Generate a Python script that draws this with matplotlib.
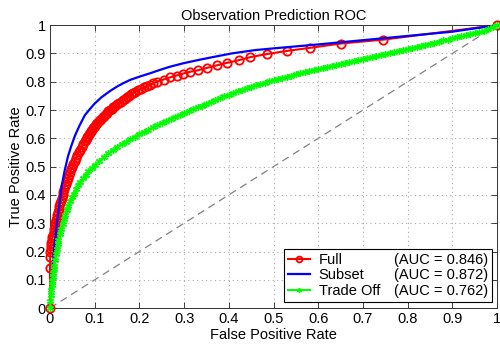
import matplotlib
matplotlib.use("Agg")
import matplotlib.pyplot as plt
from matplotlib.ticker import FuncFormatter
from matplotlib.lines import Line2D

plt.rcParams['font.family'] = ['Liberation Sans', 'DejaVu Sans']

# ---------------- data ----------------
title = "Observation Prediction ROC"
xlabel = "False Positive Rate"
ylabel = "True Positive Rate"
names = ["Full", "Subset", "Trade Off"]
aucs = ["(AUC = 0.846)", "(AUC = 0.872)", "(AUC = 0.762)"]

full_fpr = [0, 0, 0.0005,
            0.001, 0.0015, 0.002, 0.003, 0.004, 0.0055, 0.007, 0.008, 0.009, 0.0105,
            0.012, 0.0135, 0.015, 0.0165, 0.018, 0.0195, 0.021, 0.023, 0.025, 0.0265,
            0.028, 0.0295, 0.031, 0.0335, 0.036, 0.0385, 0.041, 0.043, 0.045, 0.0475,
            0.05, 0.0525, 0.055, 0.058, 0.061, 0.064, 0.067, 0.0705, 0.074, 0.078,
            0.080, 0.082, 0.0838, 0.0855, 0.0873, 0.089, 0.0913, 0.0935, 0.0958,
            0.098, 0.1008, 0.1035, 0.1062, 0.109, 0.112, 0.115, 0.118, 0.121, 0.1243,
            0.1275, 0.1308, 0.134, 0.138, 0.142, 0.146, 0.15, 0.154, 0.158, 0.1625,
            0.167, 0.1715, 0.176, 0.1805, 0.185, 0.191, 0.197, 0.2035, 0.21, 0.217,
            0.224, 0.2315,
            0.239, 0.254, 0.269, 0.283, 0.298, 0.313, 0.332, 0.351, 0.373, 0.396,
            0.422, 0.448, 0.485, 0.53, 0.582, 0.65, 0.746, 1.0]
full_tpr = [0, 0.14, 0.18,
            0.20, 0.21, 0.22, 0.23, 0.24, 0.25, 0.26, 0.27, 0.28, 0.29,
            0.30, 0.31, 0.32, 0.33, 0.34, 0.35, 0.36, 0.37, 0.38, 0.39,
            0.40, 0.41, 0.42, 0.43, 0.44, 0.45, 0.46, 0.47, 0.48, 0.49,
            0.50, 0.51, 0.52, 0.53, 0.54, 0.55, 0.56, 0.57, 0.58, 0.59,
            0.595, 0.60, 0.605, 0.61, 0.615, 0.62, 0.625, 0.63, 0.635,
            0.64, 0.645, 0.65, 0.655, 0.66, 0.665, 0.67, 0.675, 0.68, 0.685,
            0.69, 0.695, 0.70, 0.705, 0.71, 0.715, 0.72, 0.725, 0.73, 0.735,
            0.74, 0.745, 0.75, 0.755, 0.76, 0.765, 0.77, 0.775, 0.78, 0.785,
            0.79, 0.795,
            0.800, 0.808, 0.816, 0.822, 0.829, 0.835, 0.841, 0.849, 0.858, 0.867,
            0.876, 0.887, 0.898, 0.909, 0.920, 0.935, 0.949, 1.0]

subset_fpr = [0, 0.002, 0.004, 0.007, 0.010, 0.014, 0.018, 0.022, 0.026, 0.032,
              0.040, 0.048, 0.056, 0.066, 0.078, 0.090, 0.100, 0.115, 0.134, 0.150,
              0.164, 0.180, 0.200, 0.224, 0.246, 0.268, 0.300, 0.332, 0.370, 0.406,
              0.459, 0.500, 0.600, 0.700, 0.800, 0.900, 1.0]
subset_tpr = [0, 0.06, 0.11, 0.17, 0.22, 0.28, 0.33, 0.38, 0.43, 0.48,
              0.535, 0.575, 0.61, 0.645, 0.682, 0.705, 0.723, 0.745, 0.767, 0.783,
              0.795, 0.807, 0.818, 0.830, 0.842, 0.853, 0.866, 0.877, 0.889, 0.900,
              0.912, 0.918, 0.932, 0.947, 0.962, 0.977, 1.0]

trade_fpr = [0, 0.001, 0.002, 0.003, 0.004, 0.005, 0.006, 0.007, 0.008, 0.009,
             0.011, 0.013, 0.015, 0.017, 0.019, 0.022, 0.025, 0.028, 0.031, 0.034,
             0.037, 0.041, 0.045, 0.049, 0.053, 0.058, 0.063, 0.068, 0.074, 0.080,
             0.086, 0.093,
             0.10, 0.11, 0.12, 0.13, 0.14, 0.15, 0.16, 0.17, 0.18, 0.19,
             0.20, 0.21, 0.22, 0.23, 0.24, 0.25, 0.26, 0.27, 0.28, 0.29,
             0.30, 0.31, 0.32, 0.33, 0.34, 0.35, 0.36, 0.37, 0.38, 0.39,
             0.40, 0.41, 0.42, 0.43, 0.44, 0.45, 0.46, 0.47, 0.48, 0.49,
             0.50, 0.51, 0.52, 0.53, 0.54, 0.55, 0.56, 0.57, 0.58, 0.59,
             0.60, 0.61, 0.62, 0.63, 0.64, 0.65, 0.66, 0.67, 0.68, 0.69,
             0.70, 0.71, 0.72, 0.73, 0.74, 0.75, 0.76, 0.77, 0.78, 0.79,
             0.80, 0.81, 0.82, 0.83, 0.84, 0.85, 0.86, 0.87, 0.88, 0.89,
             0.90, 0.91, 0.92, 0.93, 0.94, 0.95, 0.96, 0.97, 0.98, 0.99, 1.0]
trade_tpr = [0, 0.025, 0.045, 0.065, 0.08, 0.095, 0.11, 0.125, 0.138, 0.15,
             0.17, 0.19, 0.208, 0.225, 0.24, 0.262, 0.28, 0.298, 0.314, 0.33,
             0.345, 0.362, 0.378, 0.392, 0.405, 0.42, 0.434, 0.447, 0.46, 0.472,
             0.483, 0.494,
             0.505, 0.520, 0.534, 0.547, 0.559, 0.570, 0.579, 0.588, 0.597, 0.606,
             0.615, 0.623, 0.631, 0.639, 0.647, 0.655, 0.662, 0.669, 0.676, 0.683,
             0.690, 0.697, 0.703, 0.710, 0.716, 0.723, 0.729, 0.735, 0.742, 0.748,
             0.754, 0.760, 0.766, 0.772, 0.777, 0.783, 0.788, 0.792, 0.797, 0.801,
             0.806, 0.810, 0.814, 0.818, 0.822, 0.826, 0.830, 0.834, 0.838, 0.841,
             0.845, 0.849, 0.852, 0.856, 0.859, 0.863, 0.867, 0.870, 0.874, 0.877,
             0.881, 0.885, 0.888, 0.892, 0.895, 0.899, 0.903, 0.906, 0.910, 0.913,
             0.917, 0.920, 0.924, 0.927, 0.931, 0.934, 0.938, 0.942, 0.946, 0.949,
             0.953, 0.957, 0.961, 0.964, 0.968, 0.972, 0.976, 0.980, 0.986, 0.993, 1.0]

chance = [0, 1]
ticks = [0, 0.1, 0.2, 0.3, 0.4, 0.5, 0.6, 0.7, 0.8, 0.9, 1]

# ---------------- figure ----------------
fig = plt.figure(figsize=(5.0, 3.45), dpi=100)
ax = fig.add_axes([0.100, 0.107, 0.894, 0.820])

ax.plot(chance, chance, linestyle=(0, (6, 4)), color='#808080', linewidth=0.9, zorder=1)

h_full, = ax.plot(full_fpr, full_tpr, color='red', linewidth=1.5, marker='o', markersize=6,
                  markerfacecolor='none', markeredgecolor='red', markeredgewidth=1.3,
                  clip_on=False, zorder=3)
h_sub, = ax.plot(subset_fpr, subset_tpr, color='blue', linewidth=1.6, zorder=4)
h_trade, = ax.plot(trade_fpr, trade_tpr, color='#00ff00', linewidth=1.5, marker=(6, 2, 0),
                   markersize=5, markeredgewidth=1.0, markeredgecolor='#00ff00',
                   clip_on=False, zorder=5)

ax.set_xlim(0, 1)
ax.set_ylim(0, 1)
ax.set_xticks(ticks)
ax.set_yticks(ticks)
fmt = FuncFormatter(lambda v, p: f"{v:g}")
ax.xaxis.set_major_formatter(fmt)
ax.yaxis.set_major_formatter(fmt)
ax.tick_params(direction='in', length=4, width=0.6, top=True, right=True,
               labelsize=10.5, pad=3, colors='#222222', labelcolor='black')
ax.grid(True, linestyle=(0, (1, 3)), color='#aaaaaa', linewidth=0.8)
for s in ax.spines.values():
    s.set_linewidth(0.7)
    s.set_color('#333333')

ax.set_title(title, fontsize=10.5, pad=4)
ax.set_xlabel(xlabel, fontsize=10.5, labelpad=1)
ax.set_ylabel(ylabel, fontsize=10.5, labelpad=2)

# two-column legend: names with handles, AUC texts with invisible handles
blank = [Line2D([], [], linestyle='none', marker=None) for _ in aucs]
handles = [h_full, h_sub, h_trade] + blank
labels = names + aucs
leg = ax.legend(handles, labels, ncol=2, loc='lower right', bbox_to_anchor=(0.988, 0.022),
                fontsize=10.5, frameon=True, fancybox=False, edgecolor='black',
                framealpha=1, borderpad=0.25, labelspacing=0.12, handlelength=1.5,
                handletextpad=0.6, borderaxespad=0.0, markerscale=0.7,
                columnspacing=-1.15)
leg.get_frame().set_linewidth(0.8)

fig.savefig("out.png", dpi=100)
